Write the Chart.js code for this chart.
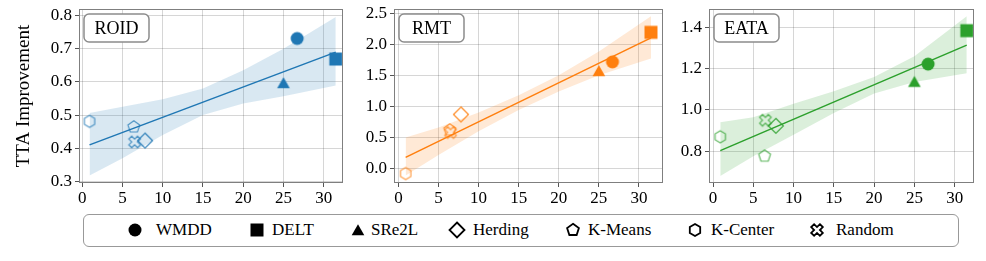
<!DOCTYPE html>
<html>
<head>
<meta charset="utf-8">
<script src="https://cdn.jsdelivr.net/npm/chart.js@4.4.1/dist/chart.umd.min.js"></script>
<style>
  body { margin:0; background:#fff; width:986px; height:261px; position:relative; overflow:hidden; font-family:"Liberation Serif","DejaVu Serif",serif; }
  .panel { position:absolute; top:0; height:210px; }
  #legendBox { position:absolute; left:83px; top:214px; width:874px; height:31px; border:1.5px solid #999; border-radius:6px; }
  .lg-icon { position:absolute; top:220px; width:20px; height:20px; }
  .lg-text { position:absolute; top:219px; font-size:17px; line-height:22px; color:#000; white-space:nowrap; }
</style>
</head>
<body>
<div class="panel" style="left:0;width:345px"><canvas id="c1"></canvas></div>
<div class="panel" style="left:345px;width:322px"><canvas id="c2"></canvas></div>
<div class="panel" style="left:667px;width:319px"><canvas id="c3"></canvas></div>
<div id="legendBox"></div>
<script>
const methods = ['WMDD','DELT','SRe2L','Herding','K-Means','K-Center','Random']
const shapes = ['circle','square','triangle','diamond','pentagon','hexagon','xcross']
const filled = [true,true,true,false,false,false,false]
const xValues = [26.7, 31.5, 25.0, 7.8, 6.4, 0.9, 6.5]

const roidY = [0.731, 0.669, 0.597, 0.423, 0.464, 0.481, 0.419]
const rmtY = [1.715, 2.19, 1.57, 0.87, 0.62, -0.08, 0.58]
const eataY = [1.222, 1.384, 1.137, 0.923, 0.776, 0.87, 0.95]

// regression line end points and confidence band
const fitX = [0.9, 31.5]
const roidFit = [0.41, 0.69]
const rmtFit = [0.18, 2.10]
const eataFit = [0.803, 1.314]
const bandX = [0.9, 5, 10, 15, 20, 25, 31.5]
const roidUpper = [0.506, 0.525, 0.548, 0.58, 0.635, 0.70, 0.796]
const roidLower = [0.318, 0.37, 0.44, 0.50, 0.535, 0.557, 0.589]
const rmtUpper = [0.50, 0.66, 0.90, 1.18, 1.50, 1.88, 2.45]
const rmtLower = [-0.11, 0.22, 0.60, 0.94, 1.24, 1.50, 1.77]
const eataUpper = [0.94, 0.965, 1.03, 1.09, 1.16, 1.26, 1.454]
const eataLower = [0.68, 0.775, 0.88, 0.985, 1.08, 1.135, 1.178]

const xTicks = [0, 5, 10, 15, 20, 25, 30]
const roidTicks = [0.3, 0.4, 0.5, 0.6, 0.7, 0.8]
const rmtTicks = [0.0, 0.5, 1.0, 1.5, 2.0, 2.5]
const eataTicks = [0.8, 1.0, 1.2, 1.4]

// legend layout: icon centre and text start (px)
const legendIconX = [135, 257, 358, 457, 573, 695, 817]
const legendTextX = [156, 272, 371, 473, 588, 711, 836]

const FONT = '"Liberation Serif", "DejaVu Serif", serif'

function shapePath(ctx, shape){
  ctx.beginPath()
  if(shape==='circle'){ ctx.arc(0,0,6.5,0,Math.PI*2) }
  else if(shape==='square'){ ctx.rect(-6.5,-6.5,13,13) }
  else if(shape==='triangle'){ ctx.moveTo(0,-5.8); ctx.lineTo(6.3,5.2); ctx.lineTo(-6.3,5.2); ctx.closePath() }
  else if(shape==='diamond'){ ctx.moveTo(0,-7.5); ctx.lineTo(7.5,0); ctx.lineTo(0,7.5); ctx.lineTo(-7.5,0); ctx.closePath() }
  else if(shape==='pentagon' || shape==='hexagon'){
    const n = shape==='pentagon' ? 5 : 6
    const r = shape==='pentagon' ? 6.2 : 6
    for(let i=0;i<n;i++){
      const a = -Math.PI/2 + i*2*Math.PI/n
      const px = r*Math.cos(a), py = r*Math.sin(a)
      if(i===0) ctx.moveTo(px,py); else ctx.lineTo(px,py)
    }
    ctx.closePath()
  }
  else if(shape==='xcross'){
    const pts = [[-1,-3],[1,-3],[1,-1],[3,-1],[3,1],[1,1],[1,3],[-1,3],[-1,1],[-3,1],[-3,-1],[-1,-1]]
    const k = 2.05
    pts.forEach((p,i)=>{
      const px = (p[0]-p[1])/Math.SQRT2*k, py = (p[0]+p[1])/Math.SQRT2*k
      if(i===0) ctx.moveTo(px,py); else ctx.lineTo(px,py)
    })
    ctx.closePath()
  }
}

function markerCanvas(shape, color, isFilled, lw){
  const c = document.createElement('canvas')
  c.width = 20; c.height = 20
  const ctx = c.getContext('2d')
  ctx.translate(10,10)
  shapePath(ctx, shape)
  if(isFilled){ ctx.fillStyle = color; ctx.fill() }
  else { ctx.strokeStyle = color; ctx.lineWidth = lw; ctx.lineJoin = 'miter'; ctx.stroke() }
  return c
}

const panelPlugin = {
  id: 'panelFrame',
  afterDatasetsDraw(chart){
    const {ctx, chartArea:a} = chart
    const txt = chart.options.plugins.panelFrame.text
    ctx.save()
    ctx.strokeStyle = '#7f7f7f'; ctx.lineWidth = 1
    ctx.strokeRect(a.left+0.5, a.top+0.5, a.right-a.left-1, a.bottom-a.top-1)
    const bx = a.left+5, by = a.top+5, bw = 65, bh = 28
    ctx.beginPath(); ctx.roundRect(bx, by, bw, bh, 5)
    ctx.fillStyle = '#fff'; ctx.fill()
    ctx.strokeStyle = '#8c8c8c'; ctx.lineWidth = 1.5; ctx.stroke()
    ctx.fillStyle = '#000'; ctx.font = '18px '+FONT
    ctx.textAlign = 'center'; ctx.textBaseline = 'middle'
    ctx.fillText(txt, bx+bw/2, by+bh/2+1)
    ctx.restore()
  }
}

function makePanel(id, opts){
  const {name, ys, fit, upper, lower, color, rgb, yMin, yMax, yTicks, xMin, xMax, yWidth, padRight, title} = opts
  const datasets = []
  datasets.push({ data: bandX.map((x,i)=>({x, y: upper[i]})), showLine:true, borderWidth:0, pointRadius:0, fill:false, order:3 })
  datasets.push({ data: bandX.map((x,i)=>({x, y: lower[i]})), showLine:true, borderWidth:0, pointRadius:0, fill:'-1', backgroundColor:`rgba(${rgb},0.17)`, order:3 })
  datasets.push({ data: fitX.map((x,i)=>({x, y: fit[i]})), showLine:true, borderColor:color, borderWidth:1.5, pointRadius:0, order:2 })
  methods.forEach((m,i)=>{
    const col = filled[i] ? color : `rgba(${rgb},${i===3?0.9:0.75})`
    // image point styles are drawn at their own size
    datasets.push({ label:m, data:[{x:xValues[i], y:ys[i]}], pointStyle: markerCanvas(shapes[i], col, filled[i], 1.2), pointRadius:0.5, pointBorderWidth:0, borderWidth:0, clip:false, order:1 })
  })
  return new Chart(document.getElementById(id), {
    type:'scatter',
    data:{ datasets },
    options:{
      responsive:false, animation:false, events:[],
      layout:{ autoPadding:false, padding:{ top:9, right:padRight, left:0, bottom:0 } },
      plugins:{ legend:{display:false}, tooltip:{enabled:false}, panelFrame:{ text:name } },
      scales:{
        x:{
          type:'linear', min:xMin, max:xMax,
          afterBuildTicks: s => { s.ticks = xTicks.map(v=>({value:v})) },
          afterFit: s => { s.height = 27; s.paddingLeft = 0; s.paddingRight = 0 },
          grid:{ color:'rgba(0,0,0,0.16)', lineWidth:1, tickLength:4, tickColor:'#555' },
          border:{ display:false },
          ticks:{ color:'#000', font:{ family:FONT, size:17 }, padding:1, maxRotation:0, callback: v => String(v) }
        },
        y:{
          type:'linear', min:yMin, max:yMax,
          afterBuildTicks: s => { s.ticks = yTicks.map(v=>({value:v})) },
          afterFit: s => { s.width = yWidth; s.paddingTop = 0; s.paddingBottom = 0 },
          grid:{ color:'rgba(0,0,0,0.16)', lineWidth:1, tickLength:4, tickColor:'#555' },
          border:{ display:false },
          title:{ display:!!title, text:title||'', color:'#000', font:{ family:FONT, size:19 }, padding:{ top:13, bottom:0 } },
          ticks:{ color:'#000', font:{ family:FONT, size:17 }, padding:3, callback: v => Number(v).toFixed(1) }
        }
      }
    },
    plugins:[panelPlugin]
  })
}

function sizeCanvas(id, w, h){ const c = document.getElementById(id); c.width = w; c.height = h; c.style.width = w+'px'; c.style.height = h+'px' }
sizeCanvas('c1', 345, 210); sizeCanvas('c2', 322, 210); sizeCanvas('c3', 319, 210)

makePanel('c1', { name:'ROID', ys:roidY, fit:roidFit, upper:roidUpper, lower:roidLower, color:'#1f77b4', rgb:'31,119,180',
  yMin:0.295, yMax:0.820, yTicks:roidTicks, xMin:-0.41, xMax:32.4, yWidth:79, padRight:2, title:'TTA Improvement' })
makePanel('c2', { name:'RMT', ys:rmtY, fit:rmtFit, upper:rmtUpper, lower:rmtLower, color:'#ff7f0e', rgb:'255,127,14',
  yMin:-0.232, yMax:2.565, yTicks:rmtTicks, xMin:-0.55, xMax:33.0, yWidth:49, padRight:4 })
makePanel('c3', { name:'EATA', ys:eataY, fit:eataFit, upper:eataUpper, lower:eataLower, color:'#2ca02c', rgb:'44,160,44',
  yMin:0.646, yMax:1.489, yTicks:eataTicks, xMin:-0.5, xMax:32.4, yWidth:42, padRight:12 })

// shared legend below the panels
methods.forEach((m,i)=>{
  const icon = markerCanvas(shapes[i], '#000', filled[i], 1.8)
  icon.className = 'lg-icon'
  icon.style.left = (legendIconX[i]-10)+'px'
  document.body.appendChild(icon)
  const t = document.createElement('span')
  t.className = 'lg-text'
  t.style.left = legendTextX[i]+'px'
  t.textContent = m
  document.body.appendChild(t)
})
</script>
</body>
</html>
